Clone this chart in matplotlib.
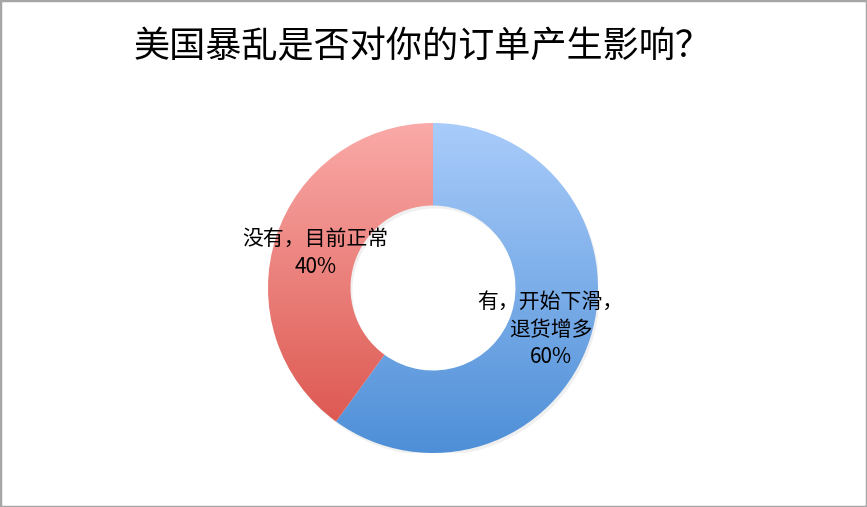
import numpy as np
import matplotlib
matplotlib.use("Agg")
import matplotlib.pyplot as plt
from matplotlib.colors import LinearSegmentedColormap
from matplotlib.patches import Rectangle, Wedge

plt.rcParams['font.family'] = ['Noto Sans CJK SC', 'DejaVu Sans']

# data
title = "美国暴乱是否对你的订单产生影响？"
labels = ["有，开始下滑，\n退货增多", "没有，目前正常"]
shares = [60, 40]
# gradient colours (top, bottom) per slice
grad_colors = [("#A9CCFA", "#4E8FD7"), ("#FAAAA8", "#DA5149")]

W, H = 867, 507
fig = plt.figure(figsize=(W / 100, H / 100), dpi=100)
fig.patch.set_facecolor("white")

# donut centre / radius in pixels
cx, cy, R = 433, 288, 165
ax = fig.add_axes([(cx - R) / W, (H - cy - R) / H, 2 * R / W, 2 * R / H])
wedges, _ = ax.pie(shares, startangle=90, counterclock=False, radius=1,
                   wedgeprops=dict(width=0.5, linewidth=0))
ax.set_xlim(-1, 1)
ax.set_ylim(-1, 1)
ax.set_aspect('auto')
ax.axis('off')

# soft shadow
for w in wedges:
    sh = Wedge((0.012, -0.018), 1.0, w.theta1, w.theta2, width=0.5,
               facecolor="#000000", alpha=0.06, linewidth=0, zorder=0)
    ax.add_patch(sh)

grad = np.linspace(0, 1, 256).reshape(-1, 1)
for w, (top, bot) in zip(wedges, grad_colors):
    w.set_facecolor("none")
    cmap = LinearSegmentedColormap.from_list("g", [top, bot])
    im = ax.imshow(grad, cmap=cmap, extent=(-1, 1, -1, 1), origin="upper",
                   aspect="auto", zorder=1, interpolation="bilinear")
    im.set_clip_path(w)

# data labels at mid radius of each slice
total = sum(shares)
for w, lab, v in zip(wedges, labels, shares):
    ang = np.deg2rad((w.theta1 + w.theta2) / 2)
    r = 0.75
    ax.text(r * np.cos(ang), r * np.sin(ang) - 0.02, f"{lab}\n{v / total:.0%}",
            ha="center", va="center", fontsize=15, color="#000000",
            linespacing=1.35, zorder=3)

fig.text(0.487, 1 - 47 / H, title, ha="center", va="center", fontsize=26, color="#000000")

fig.patches.append(Rectangle((0, 0), 1, 1, transform=fig.transFigure, fill=False,
                             edgecolor="#A6A6A6", linewidth=2.5))

fig.savefig("out.png", dpi=100)
